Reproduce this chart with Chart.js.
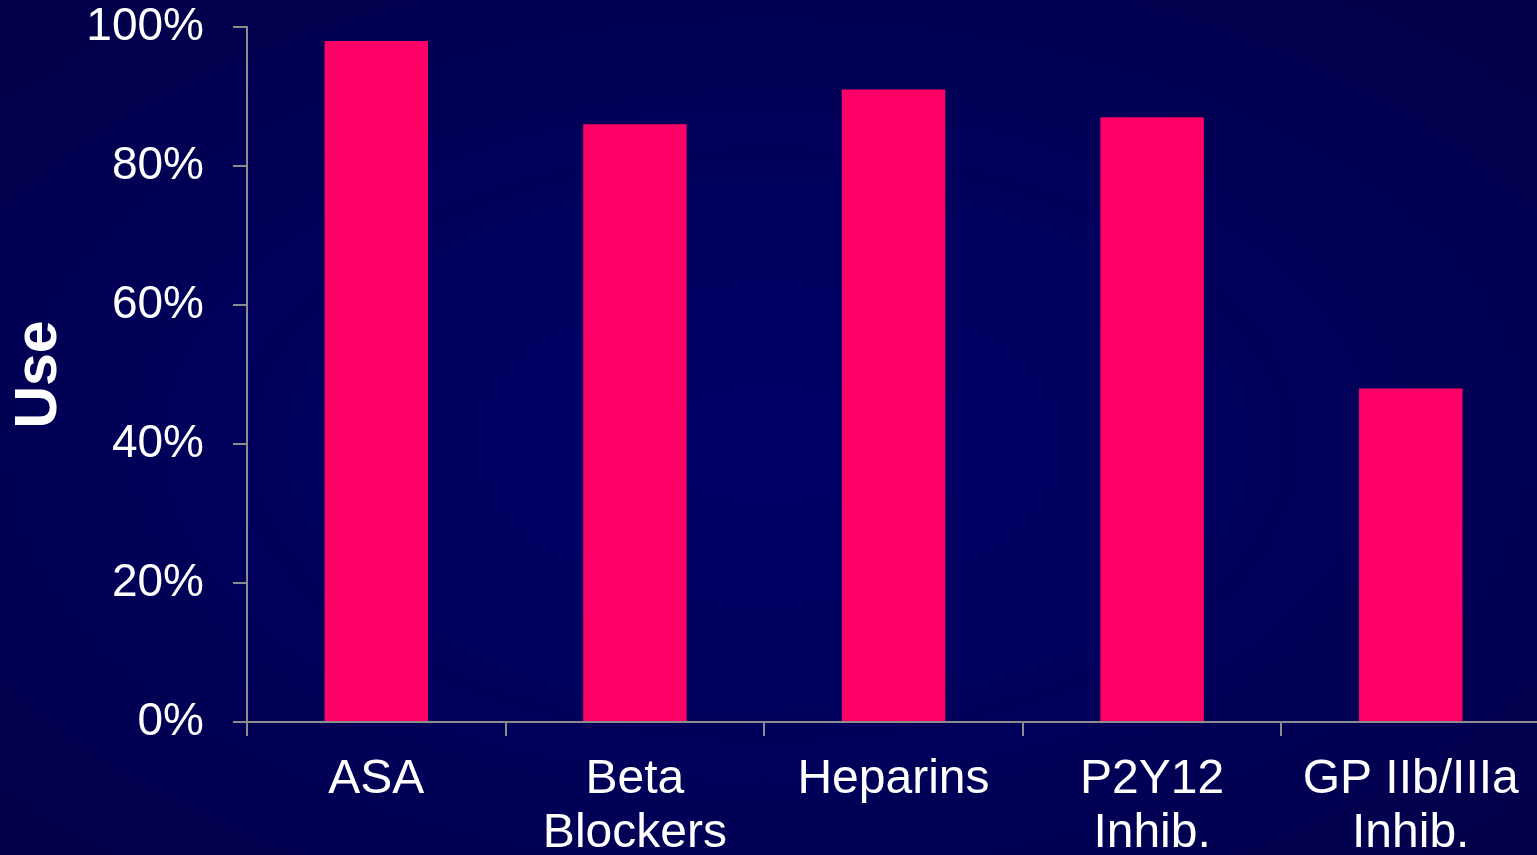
<!DOCTYPE html>
<html>
<head>
<meta charset="utf-8">
<style>
  html, body { margin: 0; padding: 0; overflow: hidden; width: 1537px; height: 855px; }
  body { background: radial-gradient(ellipse 75% 75% at 50% 52%, #000068 0%, #00005c 45%, #040046 100%); }
  #wrap { width: 1540px; height: 855px; }
</style>
<script src="https://cdn.jsdelivr.net/npm/chart.js@4/dist/chart.umd.min.js"></script>
</head>
<body>
<div id="wrap"><canvas id="c" width="1540" height="855"></canvas></div>
<script>
// Drug classes and their usage share (%)
const categories = [["ASA"], ["Beta", "Blockers"], ["Heparins"], ["P2Y12", "Inhib."], ["GP IIb/IIIa", "Inhib."]];
const usePercent = [98, 86, 91, 87, 48];
const yTicks = [0, 20, 40, 60, 80, 100];

const axisGray = '#8c8c8c';
const font = 'Liberation Sans, Arial, sans-serif';

new Chart(document.getElementById('c'), {
  type: 'bar',
  data: {
    labels: categories,
    datasets: [{
      data: usePercent,
      backgroundColor: '#ff0066',
      borderWidth: 0,
      categoryPercentage: 1,
      barPercentage: 0.4
    }]
  },
  options: {
    responsive: false,
    animation: false,
    layout: { padding: { top: 27, right: 0, bottom: 0, left: 0 } },
    plugins: { legend: { display: false }, tooltip: { enabled: false } },
    scales: {
      x: {
        grid: { display: true, drawOnChartArea: false, drawTicks: true, tickLength: 14, color: axisGray, lineWidth: 2, offset: true },
        border: { display: true, color: axisGray, width: 2 },
        ticks: { color: '#ffffff', font: { family: font, size: 48, lineHeight: 1.12 }, padding: 17, maxRotation: 0, autoSkip: false },
        afterFit: s => { s.height = 133; s.paddingLeft = 0; s.paddingRight = 0; }
      },
      y: {
        min: 0,
        max: 100,
        afterBuildTicks: s => { s.ticks = yTicks.map(v => ({ value: v })); },
        grid: { display: true, drawOnChartArea: false, drawTicks: true, tickLength: 14, color: axisGray, lineWidth: 2 },
        border: { display: true, color: axisGray, width: 2 },
        ticks: { color: '#ffffff', font: { family: font, size: 46 }, padding: 29, callback: v => v + '%' },
        title: { display: true, text: 'Use', color: '#ffffff', font: { family: font, size: 59, weight: 'bold', lineHeight: 1.2 }, padding: { top: 4, bottom: 0 } },
        afterFit: s => { s.width = 247; s.paddingTop = 0; s.paddingBottom = 0; }
      }
    }
  }
});
</script>
</body>
</html>
